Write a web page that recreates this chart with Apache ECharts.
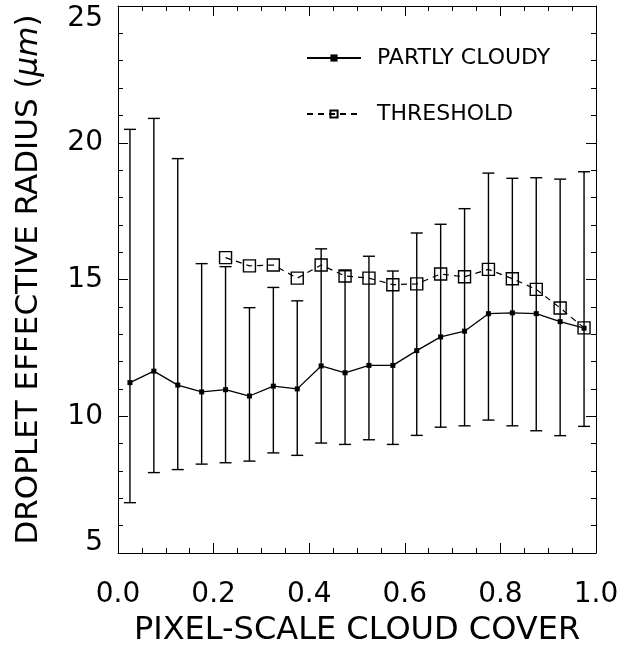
<!DOCTYPE html>
<html>
<head>
<meta charset="utf-8">
<script src="https://cdn.jsdelivr.net/npm/echarts@6/dist/echarts.min.js"></script>
<style>
html,body{margin:0;padding:0;background:#fff;}
#chart{width:629px;height:648px;}
</style>
</head>
<body>
<div id="chart"></div>
<script>
const xCover = [0.025, 0.075, 0.125, 0.175, 0.225, 0.275, 0.325, 0.375, 0.425, 0.475,
                0.525, 0.575, 0.625, 0.675, 0.725, 0.775, 0.825, 0.875, 0.925, 0.975];
const partlyCloudy = [11.23, 11.65, 11.14, 10.89, 10.97, 10.74, 11.10, 11.00, 11.84, 11.59,
                      11.86, 11.86, 12.40, 12.90, 13.11, 13.75, 13.78, 13.75, 13.46, 13.22];
const errUpper = [20.49, 20.89, 19.42, 15.58, 15.47, 13.97, 14.71, 14.22, 16.12, 15.32,
                  15.85, 15.31, 16.70, 17.02, 17.59, 18.89, 18.70, 18.72, 18.67, 18.94];
const errLower = [6.84, 7.94, 8.05, 8.25, 8.30, 8.36, 8.66, 8.57, 9.02, 8.97,
                  9.14, 8.97, 9.30, 9.60, 9.65, 9.86, 9.65, 9.47, 9.29, 9.63];
const threshold = [null, null, null, null, 15.80, 15.50, 15.53, 15.05, 15.53, 15.13,
                   15.05, 14.81, 14.84, 15.20, 15.10, 15.37, 15.03, 14.64, 13.96, 13.23];
const xTicks = [0.0, 0.2, 0.4, 0.6, 0.8, 1.0];
const yTicks = [5, 10, 15, 20, 25];
const legendNames = ['PARTLY CLOUDY', 'THRESHOLD'];

const FONT = 'DejaVu Sans';
const chart = echarts.init(document.getElementById('chart'), null, {renderer: 'canvas'});

function xAxisBase(pos, showLabel) {
  return {
    type: 'value', position: pos, min: xTicks[0], max: xTicks[xTicks.length - 1],
    interval: xTicks[1] - xTicks[0],
    axisLine: {show: true, onZero: false, lineStyle: {color: '#000', width: 1}},
    axisTick: {show: true, inside: true, length: 10, lineStyle: {color: '#000', width: 1}},
    minorTick: {show: true, splitNumber: 4, length: 5, lineStyle: {color: '#000', width: 1}},
    splitLine: {show: false}, minorSplitLine: {show: false},
    axisLabel: {show: showLabel, formatter: v => v.toFixed(1), fontSize: 28, fontFamily: FONT,
                color: '#000', margin: 28}
  };
}
function yAxisBase(pos, showLabel) {
  return {
    type: 'value', position: pos, min: yTicks[0], max: yTicks[yTicks.length - 1],
    interval: yTicks[1] - yTicks[0],
    axisLine: {show: true, onZero: false, lineStyle: {color: '#000', width: 1}},
    axisTick: {show: true, inside: true, length: 10, lineStyle: {color: '#000', width: 1}},
    minorTick: {show: true, splitNumber: 5, length: 5, lineStyle: {color: '#000', width: 1}},
    splitLine: {show: false}, minorSplitLine: {show: false},
    axisLabel: {
      show: showLabel, fontSize: 28, fontFamily: FONT, color: '#000', margin: 15,
      formatter: v => v === 25 ? '{t|' + v + '}' : (v === 5 ? '{b|' + v + '}' : '{n|' + v + '}'),
      rich: {
        t: {fontSize: 28, fontFamily: FONT, color: '#000', padding: [26, 0, 0, 0]},
        b: {fontSize: 28, fontFamily: FONT, color: '#000', padding: [0, 0, 21, 0]},
        n: {fontSize: 28, fontFamily: FONT, color: '#000'}
      }
    }
  };
}

const xb = xAxisBase('bottom', true);
xb.name = 'PIXEL-SCALE CLOUD COVER';
xb.nameLocation = 'middle';
xb.nameGap = 62;
xb.nameTextStyle = {fontSize: 32, fontFamily: FONT, color: '#000'};
const xt = xAxisBase('top', false);

const yl = yAxisBase('left', true);
yl.name = 'DROPLET EFFECTIVE RADIUS ({i|μm})';
yl.nameLocation = 'middle';
yl.nameGap = 74;
yl.nameTextStyle = {fontSize: 31, fontFamily: FONT, color: '#000',
  rich: {i: {fontSize: 31, fontFamily: FONT, fontStyle: 'italic', color: '#000'}}};
const yr = yAxisBase('right', false);

const option = {
  animation: false,
  backgroundColor: '#fff',
  grid: {left: 118, right: 33, top: 6, bottom: 95, containLabel: false, outerBoundsMode: 'none'},
  xAxis: [xb, xt],
  yAxis: [yl, yr],
  legend: {
    data: legendNames,
    orient: 'vertical',
    left: 301, top: 40,
    itemWidth: 54, itemHeight: 9, itemGap: 30,
    textStyle: {fontSize: 22, fontFamily: FONT, color: '#000', lineHeight: 26, padding: [0, 0, 0, 11]}
  },
  series: [
    {
      type: 'custom',
      name: 'errorbars',
      xAxisIndex: 0, yAxisIndex: 0,
      data: xCover.map((x, i) => [x, errLower[i], errUpper[i]]),
      encode: {x: 0, y: [1, 2]},
      renderItem: function (params, api) {
        const lo = api.coord([api.value(0), api.value(1)]);
        const hi = api.coord([api.value(0), api.value(2)]);
        const hw = 6;
        const st = {stroke: '#000', lineWidth: 1.4};
        return {
          type: 'group',
          children: [
            {type: 'line', shape: {x1: lo[0], y1: lo[1], x2: hi[0], y2: hi[1]}, style: st},
            {type: 'line', shape: {x1: lo[0] - hw, y1: lo[1], x2: lo[0] + hw, y2: lo[1]}, style: st},
            {type: 'line', shape: {x1: hi[0] - hw, y1: hi[1], x2: hi[0] + hw, y2: hi[1]}, style: st}
          ]
        };
      },
      z: 2
    },
    {
      type: 'line',
      name: 'PARTLY CLOUDY',
      data: xCover.map((x, i) => [x, partlyCloudy[i]]),
      symbol: 'rect', symbolSize: 5,
      itemStyle: {color: '#000'},
      lineStyle: {color: '#000', width: 1.3},
      z: 3
    },
    {
      type: 'line',
      name: 'THRESHOLD',
      data: xCover.map((x, i) => [x, threshold[i]]).filter(d => d[1] !== null),
      symbol: 'rect', symbolSize: 12,
      itemStyle: {color: 'rgba(0,0,0,0)', borderColor: '#000', borderWidth: 1.4},
      lineStyle: {color: '#000', width: 1.2, type: [6, 5]},
      z: 4
    }
  ]
};
chart.setOption(option);
</script>
</body>
</html>
